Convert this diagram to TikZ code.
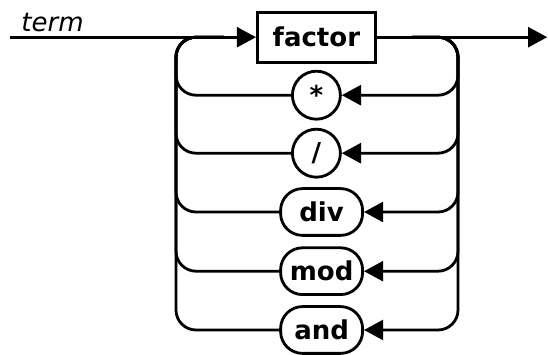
\documentclass[tikz,border=0pt]{standalone}
\usepackage{fontspec}
\setmainfont{DejaVu Sans}
\usetikzlibrary{arrows.meta}

\begin{document}
\begin{tikzpicture}[
    line width=2pt,
    box/.style={draw, minimum width=2.95cm, minimum height=1.25cm, inner sep=0pt, font=\fontsize{18.5}{21}\selectfont\bfseries},
    sym/.style={draw, circle, minimum size=1.2cm, inner sep=0pt, font=\fontsize{18.5}{21}\selectfont\bfseries},
    word/.style={draw, rounded corners=0.55cm, minimum width=2.05cm, minimum height=1.17cm, inner sep=0pt, font=\fontsize{18.5}{21}\selectfont\bfseries},
    arr/.style={-{Triangle[length=0.48cm, width=0.5cm]}},
    back/.style={rounded corners=0.5cm},
    lbl/.style={font=\fontsize{18.5}{21}\selectfont\itshape, inner sep=0pt}
]
\useasboundingbox (0,0) rectangle (13.7,-8.875);

\coordinate (in) at (0.25,-0.93);
\coordinate (out) at (13.68,-0.93);
\coordinate (lt) at (4.4,-0.93);
\coordinate (rt) at (11.45,-0.93);
\coordinate (jl) at (5.6,-0.93);
\coordinate (jr) at (10.3,-0.93);

\node[lbl, anchor=base west] (name) at (0.5,-0.8) {term};
\node[box] (factor) at (7.91,-0.93) {factor};
\node[sym] (mul) at (7.91,-2.38) {\raisebox{-0.2em}{*}};
\node[sym] (slash) at (7.91,-3.83) {/};
\node[word] (div) at (8.04,-5.3) {div};
\node[word] (mod) at (8.04,-6.78) {mod};
\node[word] (and) at (8.04,-8.25) {and};

\draw[arr] (in) -- (factor);
\draw[arr] (factor) -- (out);

% loops back round the factor
\draw[back] (mul.west) -| (lt) -- (jl);
\draw[back] (slash.west) -| (lt) -- (jl);
\draw[back] (div.west) -| (lt) -- (jl);
\draw[back] (mod.west) -| (lt) -- (jl);
\draw[back] (and.west) -| (lt) -- (jl);

\draw[back, arr] (jr) -- (rt) |- (mul.east);
\draw[back, arr] (jr) -- (rt) |- (slash.east);
\draw[back, arr] (jr) -- (rt) |- (div.east);
\draw[back, arr] (jr) -- (rt) |- (mod.east);
\draw[back, arr] (jr) -- (rt) |- (and.east);
\end{tikzpicture}
\end{document}
